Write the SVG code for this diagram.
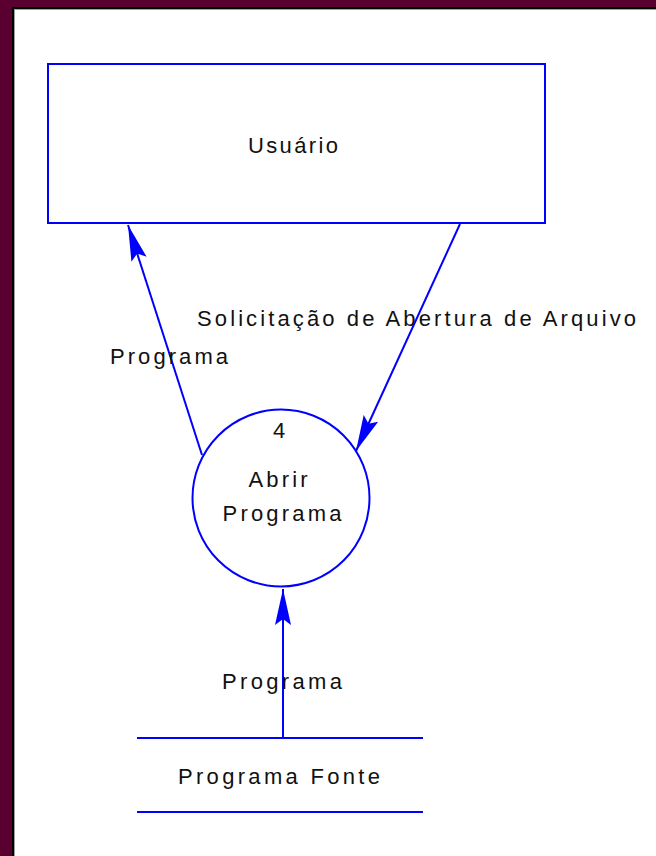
<svg xmlns="http://www.w3.org/2000/svg" width="656" height="856" viewBox="0 0 656 856">
<defs>
<style>
.shape{fill:none;stroke:#0000ff;stroke-width:2}
.flow{fill:none;stroke:#0000ff;stroke-width:2}
text{font-family:"Liberation Sans",Arial,sans-serif;font-size:22px;fill:#111;}
</style>
<marker id="arr" viewBox="0 0 36 16" refX="36" refY="8" markerWidth="36" markerHeight="16" markerUnits="userSpaceOnUse" orient="auto">
<path d="M0,0 L36,8 L0,16 L6,8 z" fill="#0000ff"/>
</marker>
</defs>
<rect x="0" y="0" width="656" height="856" fill="#5a0030"/>
<rect x="12" y="7" width="644" height="849" fill="#000"/>
<rect x="14" y="9" width="642" height="847" fill="#a0a0a0"/>
<rect x="15" y="10" width="641" height="846" fill="#fff"/>

<g id="usuario">
<rect class="shape" x="48" y="64" width="497" height="159"/>
<text x="293" y="153" text-anchor="middle" textLength="90" lengthAdjust="spacing">Usuário</text>
</g>

<g id="processo4">
<circle class="shape" cx="281" cy="498" r="88.5"/>
<text x="279" y="438" text-anchor="middle">4</text>
<text x="278" y="487" text-anchor="middle" textLength="59" lengthAdjust="spacing">Abrir</text>
<text x="282" y="521" text-anchor="middle" textLength="119" lengthAdjust="spacing">Programa</text>
</g>

<g id="programa-fonte">
<line class="shape" x1="137" y1="738" x2="423" y2="738"/>
<line class="shape" x1="137" y1="812" x2="423" y2="812"/>
<text x="279" y="784" text-anchor="middle" textLength="202" lengthAdjust="spacing">Programa Fonte</text>
</g>

<g id="connectors">
<line class="flow" x1="202" y1="455" x2="128" y2="225" marker-end="url(#arr)"/>
<text x="110" y="364" textLength="118" lengthAdjust="spacing">Programa</text>
<line class="flow" x1="460" y1="224" x2="356" y2="451" marker-end="url(#arr)"/>
<text x="197" y="326" textLength="439" lengthAdjust="spacing">Solicitação de Abertura de Arquivo</text>
<line class="flow" x1="283" y1="738" x2="283" y2="589" marker-end="url(#arr)"/>
<text x="282" y="689" text-anchor="middle" textLength="120" lengthAdjust="spacing">Programa</text>
</g>
</svg>
